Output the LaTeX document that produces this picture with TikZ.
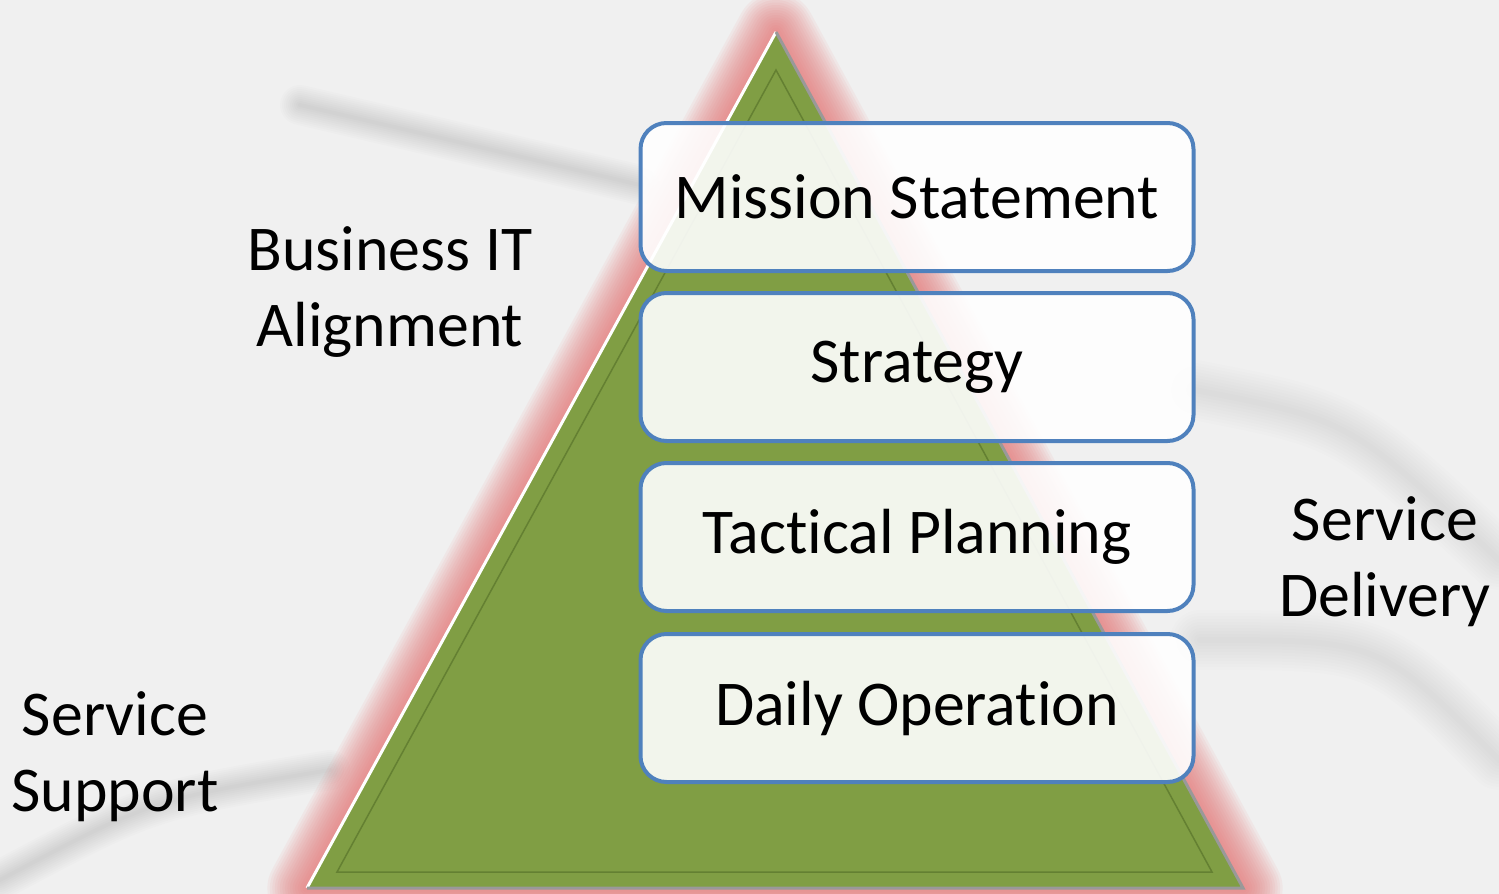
\documentclass[tikz,border=0pt]{standalone}
\usepackage{fontspec}
\setmainfont[Ligatures={NoCommon}]{Carlito}
\begin{document}
\begin{tikzpicture}[x=1pt,y=-1pt,
  layerbox/.style={draw=boxblue, line width=4pt, fill=white, fill opacity=0.9, text opacity=1,
    rounded corners=26pt, minimum width=553pt, minimum height=148pt, inner sep=0pt,
    font=\fontsize{63.8}{76}\selectfont},
  sidelabel/.style={align=center, inner sep=0pt, font=\fontsize{63.8}{76}\selectfont},
  swoosh/.style={line cap=round, draw=black, draw opacity=0.010}]
\definecolor{bg}{RGB}{240,240,240}
\definecolor{boxblue}{RGB}{79,129,189}
\definecolor{pyrgreen}{RGB}{128,158,68}
\definecolor{pyrdark}{RGB}{100,128,50}
\definecolor{glow}{RGB}{230,110,110}
\useasboundingbox (0,0) rectangle (1499,894);
\fill[bg] (0,0) rectangle (1499,894);
% background swooshes
\foreach \w in {4,8,...,40}{
  \draw[swoosh, line width=\w pt] (300,105) .. controls (450,140) .. (640,185);
  \draw[swoosh, line width=\w pt] (0,880) .. controls (150,800) .. (330,770);
}
\foreach \w in {6,12,...,60}{
  \draw[swoosh, draw opacity=0.006, line width=\w pt] (1195,390) .. controls (1350,420) .. (1499,560);
  \draw[swoosh, draw opacity=0.006, line width=\w pt] (1200,640) .. controls (1380,640) .. (1499,760);
}
% glow
\coordinate (A) at (776,32);
\coordinate (B) at (307,888);
\coordinate (C) at (1243,888);
\foreach \i in {1,...,16}{
  \draw[glow, draw opacity=0.07, line width=84pt-5pt*\i, line join=round] (A) -- (B) -- (C) -- cycle;
}
% pyramid
\fill[pyrgreen] (A) -- (B) -- (C) -- cycle;
\draw[white, line width=3pt] (B) -- (A);
\draw[gray!80, line width=3pt] (A) -- (C) -- (B);
\coordinate (Ai) at (776,70);
\coordinate (Bi) at (337,872);
\coordinate (Ci) at (1212,872);
\draw[pyrdark, line width=1.5pt, line join=miter] (Ai) -- (Bi) -- (Ci) -- cycle;
% layers
\node[layerbox] (mission) at (917,197) {Mission Statement};
\node[layerbox] (strategy) at (917,367) {Strategy};
\node[layerbox] (tactical) at (917,537) {Tactical Planning};
\node[layerbox] (daily) at (917,708) {Daily Operation};
% side labels
\node[sidelabel] (bita) at (390,292) {Business IT\\Alignment};
\node[sidelabel] (ssup) at (115,757) {Service\\Support};
\node[sidelabel] (sdel) at (1385,562) {Service\\Delivery};
\end{tikzpicture}
\end{document}
